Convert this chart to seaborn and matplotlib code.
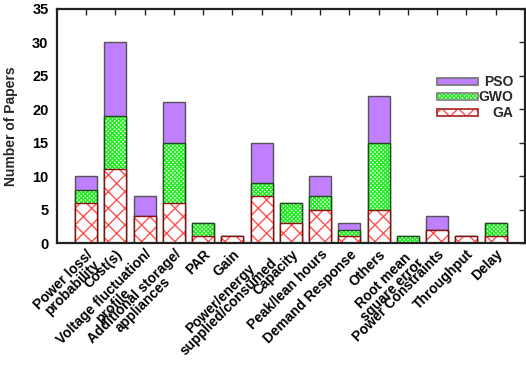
import matplotlib
matplotlib.use("Agg")
import matplotlib.pyplot as plt
import seaborn as sns
import numpy as np
from matplotlib.colors import to_rgba
from matplotlib.patches import Rectangle

categories = ["Power loss/\nprobability", "Cost(s)", "Voltage fluctuation/\nprofile",
              "Additional storage/\nappliances", "PAR", "Gain", "Power/energy\nsupplied/consumed",
              "Capacity", "Peak/lean hours", "Demand Response", "Others",
              "Root mean\nsquare error", "Power Constraints", "Throughput", "Delay"]
ga = [6, 11, 4, 6, 1, 1, 7, 3, 5, 1, 5, 0, 2, 1, 1]
gwo = [2, 8, 0, 9, 2, 0, 2, 3, 2, 1, 10, 1, 0, 0, 2]
pso = [2, 11, 3, 6, 0, 0, 6, 0, 3, 1, 7, 0, 2, 0, 0]
series_names = ["PSO", "GWO", "GA"]
yticks = [0, 5, 10, 15, 20, 25, 30, 35]

sns.set_theme(style="white")
plt.rcParams['font.family'] = ['Liberation Sans', 'DejaVu Sans']
plt.rcParams['font.weight'] = 'bold'
plt.rcParams['hatch.linewidth'] = 1.0

fig = plt.figure(figsize=(5.26, 3.74), dpi=100)
ax = fig.add_axes([0.108, 0.35, 0.89, 0.627])

ga_a = np.array(ga)
gwo_cum = ga_a + np.array(gwo)
tot = gwo_cum + np.array(pso)
x = list(range(len(categories)))

PSO_C = "#bf7fff"
GWO_H = "#22ee22"
GA_H = "#ff5050"
GWO_HATCH = "xxxxxxxx"
GA_HATCH = "xx"

layers = [
    (tot, PSO_C, None, "#555555", None),
    (gwo_cum, "white", GWO_HATCH, "#1a4d1a", GWO_H),
    (ga_a, "white", GA_HATCH, "#8b1010", GA_H),
]
for vals, fc, hatch, ec, hc in layers:
    n0 = len(ax.patches)
    sns.barplot(x=x, y=vals, color=fc, saturation=1, width=0.75, ax=ax,
                edgecolor=ec, linewidth=1.0, hatch=hatch, errorbar=None)
    for p in ax.patches[n0:]:
        p.set_facecolor(fc)
        p.set_edgecolor(ec)
        if hc is not None:
            p._hatch_color = to_rgba(hc)

ax.set_xlim(-1, 15)
ax.set_ylim(0, 35)
ax.set_yticks(yticks)
ax.set_yticklabels([str(v) for v in yticks], fontsize=10.5, fontweight='bold')
ax.set_xticks(x)
ax.set_xticklabels(categories, rotation=45, ha='right', rotation_mode='anchor',
                   fontsize=10, fontweight='bold', multialignment='center', linespacing=0.8)
ax.set_ylabel("Number of Papers", fontsize=10, fontweight='bold', labelpad=10)
ax.set_xlabel("")

for s in ax.spines.values():
    s.set_visible(True)
    s.set_linewidth(1.6)
    s.set_color("#222222")

ax.tick_params(axis='y', which='both', left=False, right=True, direction='in', length=4,
               width=1, pad=6, colors="#222222", labelcolor='black')
ax.tick_params(axis='x', which='both', bottom=False, top=True, direction='in', length=4,
               width=1, pad=3, labelcolor='black')

# legend (drawn in axes coordinates)
leg_specs = [
    (series_names[0], PSO_C, None, "#777777", None),
    (series_names[1], "white", GWO_HATCH, "#888888", GWO_H),
    (series_names[2], "white", GA_HATCH, "#b03030", GA_H),
]
row_y = [0.688, 0.625, 0.556]
hx0, hw, hh = 0.812, 0.088, 0.030
for (name, fc, hatch, ec, hc), yy in zip(leg_specs, row_y):
    r = Rectangle((hx0, yy - hh / 2), hw, hh, transform=ax.transAxes,
                  facecolor=fc, edgecolor=ec, linewidth=1.3, hatch=hatch, clip_on=False)
    if hc is not None:
        r._hatch_color = to_rgba(hc)
    ax.add_patch(r)
    ax.text(0.976, yy, name, transform=ax.transAxes, ha='right', va='center',
            fontsize=10, fontweight='bold')

fig.savefig("out.png", dpi=100)
